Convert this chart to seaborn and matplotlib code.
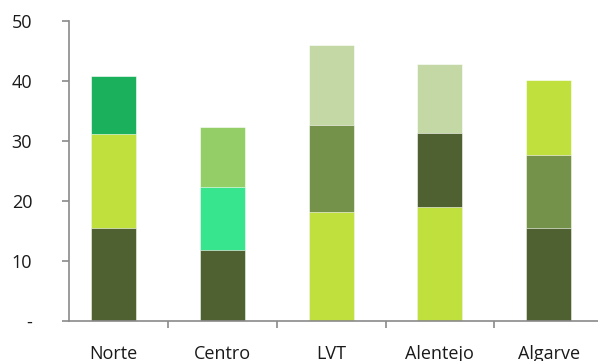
import matplotlib
matplotlib.use("Agg")
import matplotlib.pyplot as plt
import numpy as np
import pandas as pd
import seaborn as sns

# Regions and the three stacked components of each bar (bottom -> top)
regions = ["Norte", "Centro", "LVT", "Alentejo", "Algarve"]
seg_bottom = [15.5, 11.8, 18.2, 19.0, 15.5]
seg_middle = [15.6, 10.5, 14.4, 12.4, 12.2]
seg_top = [9.8, 10.0, 13.4, 11.4, 12.5]

# Segment colours per region
DARK = "#4f6031"
LIME = "#c0e03d"
GREEN = "#1bb05b"
TEAL = "#37e58f"
LEAF = "#93cf66"
OLIVE = "#75924a"
PALE = "#c4d8a6"
col_bottom = [DARK, DARK, LIME, LIME, DARK]
col_middle = [LIME, TEAL, OLIVE, DARK, OLIVE]
col_top = [GREEN, LEAF, PALE, PALE, LIME]

yticks = [0, 10, 20, 30, 40, 50]
ytick_labels = ["-", "10", "20", "30", "40", "50"]

sns.set_theme(style="white")
plt.rcParams["font.family"] = ["Open Sans", "DejaVu Sans"]

fig = plt.figure(figsize=(5.98, 3.61), dpi=100)
ax = fig.add_axes([69 / 598, 1 - 321 / 361, 1 - 69 / 598, 300 / 361])

lvl1 = np.array(seg_bottom)
lvl2 = lvl1 + np.array(seg_middle)
lvl3 = lvl2 + np.array(seg_top)

# Stacked bars: draw cumulative totals from the tallest layer down
layers = [(lvl3, col_top), (lvl2, col_middle), (lvl1, col_bottom)]
for totals, cols in layers:
    df = pd.DataFrame({"region": regions, "value": totals})
    sns.barplot(data=df, x="region", y="value", hue="region",
                palette=dict(zip(regions, cols)), order=regions,
                hue_order=regions, dodge=False, legend=False,
                width=0.414, saturation=1, edgecolor="white",
                linewidth=0.4, ax=ax)

ax.set_xlim(-0.409, 4.453)
ax.set_ylim(0, 50)
ax.set_xlabel("")
ax.set_ylabel("")
ax.set_yticks(yticks)
ax.set_yticklabels(ytick_labels)

# Category separators as tick marks on the x axis
ax.set_xticks(np.arange(len(regions)))
ax.set_xticklabels(regions)
ax.set_xticks(np.arange(len(regions) - 1) + 0.5, minor=True)

axis_grey = "#8a8a8a"
for side in ["top", "right"]:
    ax.spines[side].set_visible(False)
for side in ["left", "bottom"]:
    ax.spines[side].set_color(axis_grey)
    ax.spines[side].set_linewidth(1.2)

ax.tick_params(axis="y", which="major", left=True, length=5, width=1.2,
               color=axis_grey, pad=21.5, labelsize=13, labelcolor="#1a1a1a")
ax.tick_params(axis="x", which="major", bottom=False, pad=11.5,
               labelsize=13, labelcolor="#1a1a1a")
ax.tick_params(axis="x", which="minor", bottom=True, length=5, width=1.2,
               color=axis_grey)
ax.grid(False)

fig.savefig("out.png", dpi=100)
